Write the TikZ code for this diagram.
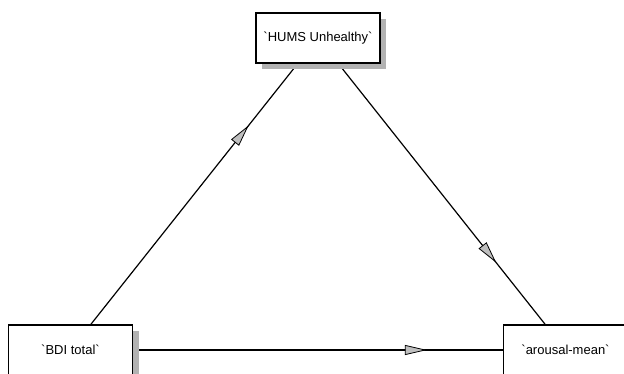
\documentclass[tikz,border=0pt]{standalone}
\usepackage{fontspec}
\setmainfont{Liberation Sans}
\usetikzlibrary{arrows.meta,decorations.markings,shadows,backgrounds}
\newcommand{\gq}{\textasciigrave}
\begin{document}
\begin{tikzpicture}[x=1pt,y=-1pt,
  varbox/.style={draw=black,line width=1.2pt,fill=white,minimum width=124pt,minimum height=50pt,
    inner sep=0pt,font=\fontsize{13}{15}\selectfont,
    drop shadow={shadow xshift=6pt,shadow yshift=-6pt,fill=black!30,opacity=1}},
  path/.style={line width=1.2pt,draw=black,postaction={decorate},
    decoration={markings,mark=at position 0.72 with {\arrow{Triangle[length=22pt,width=10pt,fill=black!25,line width=0.8pt]}}}}]
\useasboundingbox (0,0) rectangle (624,373);
\node[varbox] (hums) at (318,38) {\gq HUMS Unhealthy\gq};
\node[varbox] (bdi) at (70.5,350) {\gq BDI total\gq};
\node[varbox] (arousal) at (565.5,350) {\gq arousal-mean\gq};
\begin{scope}[on background layer]
\draw[path] (bdi.center) -- (hums.center);
\draw[path] (hums.center) -- (arousal.center);
\draw[path] (bdi.center) -- (arousal.center);
\end{scope}
\end{tikzpicture}
\end{document}
